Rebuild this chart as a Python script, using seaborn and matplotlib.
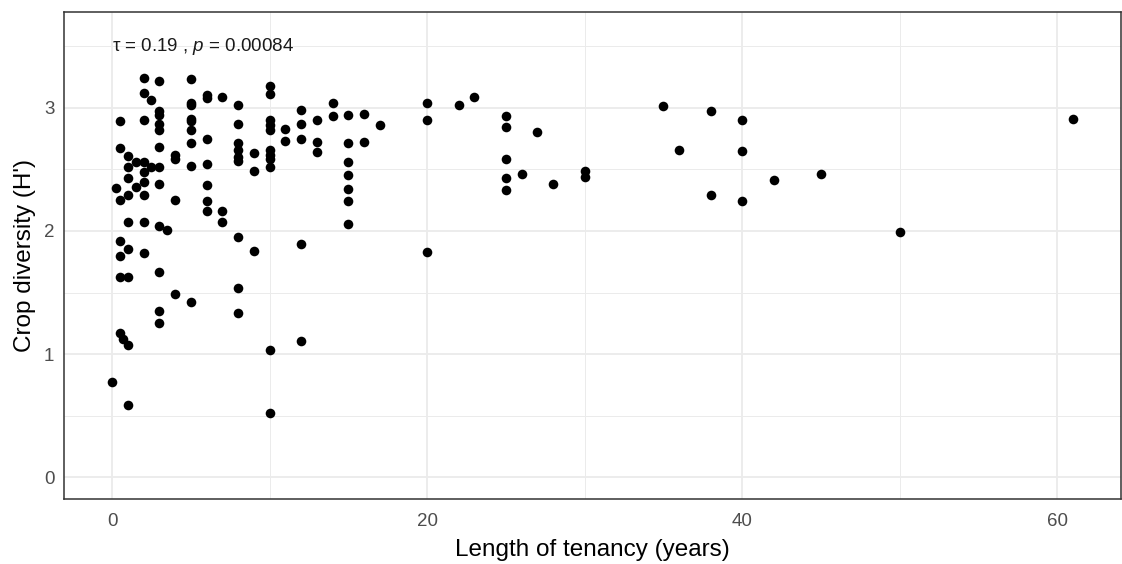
import matplotlib
matplotlib.use('Agg')
import matplotlib.pyplot as plt
import seaborn as sns
import pandas as pd

# tenancy (years) and crop diversity (H'), column by column
tenancy = (
    [0] + [0.25]
    + [0.5] * 7 + [0.7]
    + [1] * 9 + [1.5] * 2
    + [2] * 9 + [2.5] * 2
    + [3] * 12 + [3.5]
    + [4] * 4 + [5] * 9 + [6] * 7 + [7] * 3 + [8] * 9 + [9] * 3
    + [10] * 11 + [11] * 2 + [12] * 5 + [13] * 3 + [14] * 2
    + [15] * 7 + [16] * 2 + [17]
    + [20] * 3 + [22] + [23] + [25] * 5 + [26] + [27] + [28] + [30] * 2
    + [35] + [36] + [38] * 2 + [40] * 3 + [42] + [45] + [50] + [61]
)
diversity = (
    [0.77] + [2.35]
    + [2.89, 2.67, 2.25, 1.92, 1.80, 1.63, 1.17] + [1.12]
    + [2.61, 2.52, 2.43, 2.29, 2.07, 1.85, 1.63, 1.07, 0.59] + [2.56, 2.36]
    + [3.24, 3.12, 2.90, 2.56, 2.48, 2.40, 2.29, 2.07, 1.82] + [3.06, 2.52]
    + [3.22, 2.97, 2.94, 2.87, 2.82, 2.68, 2.52, 2.38, 2.04, 1.67, 1.35, 1.25] + [2.01]
    + [2.62, 2.58, 2.25, 1.49]
    + [3.23, 3.04, 3.02, 2.91, 2.89, 2.82, 2.71, 2.53, 1.42]
    + [3.10, 3.08, 2.75, 2.54, 2.37, 2.24, 2.16]
    + [3.09, 2.16, 2.07]
    + [3.02, 2.87, 2.71, 2.66, 2.60, 2.57, 1.95, 1.54, 1.33]
    + [2.63, 2.49, 1.84]
    + [3.18, 3.11, 2.90, 2.86, 2.82, 2.66, 2.62, 2.58, 2.52, 1.03, 0.52]
    + [2.83, 2.73]
    + [2.98, 2.87, 2.75, 1.89, 1.11]
    + [2.90, 2.72, 2.64]
    + [3.04, 2.93]
    + [2.94, 2.71, 2.56, 2.45, 2.34, 2.24, 2.06]
    + [2.95, 2.72]
    + [2.86]
    + [3.04, 2.90, 1.83] + [3.02] + [3.09]
    + [2.93, 2.84, 2.58, 2.43, 2.33] + [2.46] + [2.80] + [2.38] + [2.49, 2.44]
    + [3.01] + [2.66] + [2.97, 2.29] + [2.90, 2.65, 2.24] + [2.41] + [2.46]
    + [1.99] + [2.91]
)

x_ticks = [0, 20, 40, 60]
y_ticks = [0, 1, 2, 3]
cor_label = r'τ = 0.19 , $\it{p}$ = 0.00084'

df = pd.DataFrame({'tenancy': tenancy, 'diversity': diversity})

sns.set_theme(style='white')
plt.rcParams['font.family'] = ['Liberation Sans', 'DejaVu Sans']
plt.rcParams['mathtext.fontset'] = 'custom'
plt.rcParams['mathtext.it'] = 'Liberation Sans:italic'
plt.rcParams['mathtext.rm'] = 'Liberation Sans'

fig = plt.figure(figsize=(11.22, 5.64), dpi=100)
ax = fig.add_axes([64 / 1122, 1 - 499 / 564, (1121 - 64) / 1122, (499 - 12) / 564])

# ggplot-like grid (theme_bw)
ax.set_xticks(x_ticks)
ax.set_xticks([10, 30, 50], minor=True)
ax.set_yticks(y_ticks)
ax.set_yticks([0.5, 1.5, 2.5, 3.5], minor=True)
ax.grid(which='major', color='#EBEBEB', linewidth=1.3)
ax.grid(which='minor', color='#EBEBEB', linewidth=0.7)
ax.set_axisbelow(True)

sns.scatterplot(x='tenancy', y='diversity', data=df, color='black',
                s=48, linewidth=0, ax=ax, zorder=3)

ax.set_xlim(-3.05, 64.05)
ax.set_ylim(-0.176, 3.777)

for sp in ax.spines.values():
    sp.set_color('#333333')
    sp.set_linewidth(1.1)

ax.tick_params(which='major', length=4, width=1.1, color='#333333',
               labelcolor='#4D4D4D', labelsize=13.5)
ax.tick_params(axis='x', pad=6)
ax.tick_params(axis='y', pad=3)
ax.tick_params(which='minor', length=0)

ax.set_xlabel('Length of tenancy (years)', fontsize=17.5, color='black')
ax.set_ylabel("Crop diversity (H')", fontsize=17.5, color='black')
ax.xaxis.set_label_coords(0.5, -0.104)
ax.yaxis.set_label_coords(-0.037, 0.5)
ax.xaxis.label.set_va('center')
ax.yaxis.label.set_va('center')

ax.text(0, 3.5, cor_label, ha='left', va='center', fontsize=13.5, color='#1a1a1a')

plt.savefig('out.png', dpi=100)
plt.close()
